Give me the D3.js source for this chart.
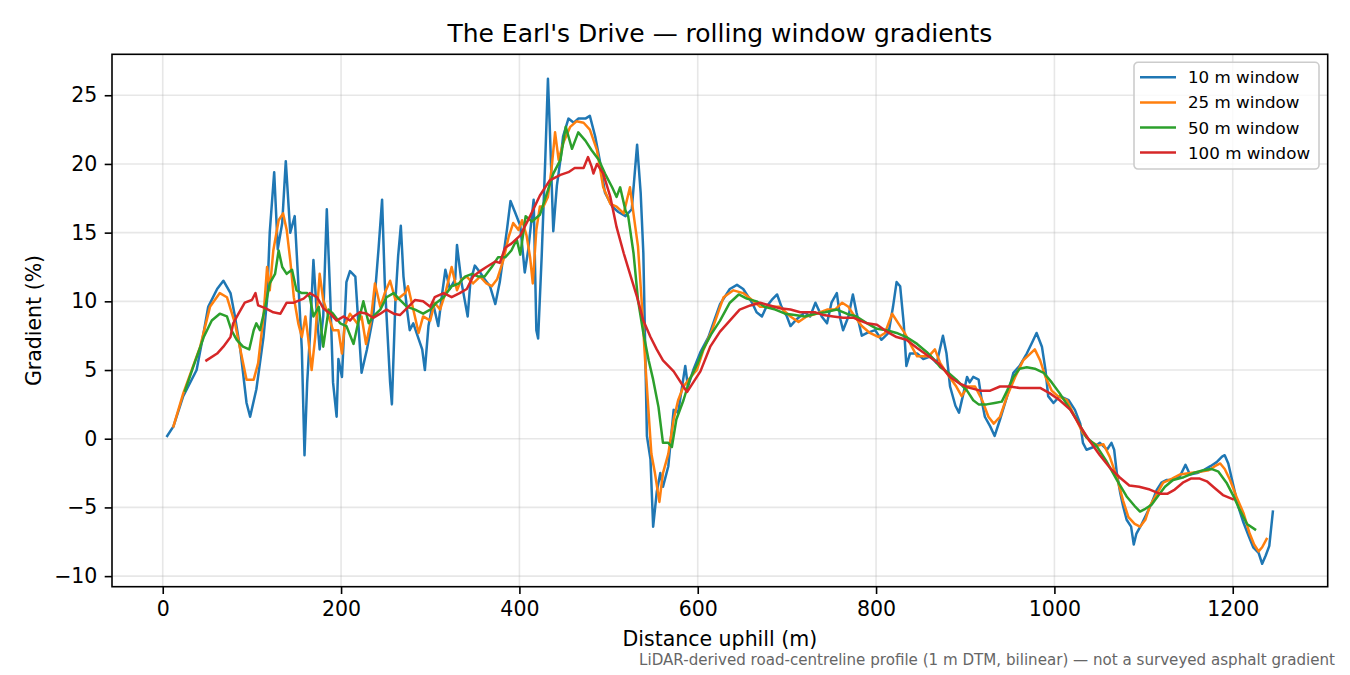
<!DOCTYPE html>
<html>
<head>
<meta charset="utf-8">
<script src="https://cdn.jsdelivr.net/npm/d3@7"></script>
<style>
  body { margin: 0; background: #fff; }
  svg { font-family: "DejaVu Sans", sans-serif; }
</style>
</head>
<body>
<div id="chart"></div>
<script>
// rolling window gradients, [distance uphill (m), gradient (%)]
var win10 = [[5,0.2],[12,0.9],[23,3.1],[38,5.0],[45,7.4],[51,9.6],[61,10.9],[68,11.5],[76,10.6],[81,8.9],[87,6.5],[94,2.6],[98,1.6],[105,3.6],[113,7.4],[117,10.1],[120,15.0],[125,19.4],[129,13.8],[134,15.7],[138,20.2],[143,15.0],[148,16.2],[152,11.4],[156,6.5],[159,-1.2],[162,4.1],[165,7.4],[169,13.0],[173,8.9],[176,6.5],[180,8.9],[184,16.7],[188,10.1],[191,4.1],[195,1.6],[197,5.8],[201,4.5],[206,11.4],[210,12.2],[216,11.8],[223,4.8],[229,6.5],[236,8.9],[242,13.8],[246,17.4],[249,11.4],[255,4.1],[257,2.5],[261,10.1],[264,13.3],[267,15.5],[270,11.8],[274,9.4],[277,7.9],[281,8.4],[291,6.5],[294,5.0],[298,8.2],[303,9.9],[309,8.2],[313,10.4],[317,12.3],[322,10.9],[328,11.6],[330,14.1],[335,11.4],[342,8.9],[345,11.4],[350,12.6],[356,12.1],[361,11.6],[367,11.1],[373,9.8],[378,11.4],[382,13.3],[386,15.2],[390,17.3],[395,16.5],[401,15.5],[406,12.1],[410,13.8],[416,17.4],[419,7.9],[421,7.3],[425,13.3],[429,20.3],[432,26.2],[434,22.8],[438,15.1],[442,18.4],[446,20.3],[449,22.0],[455,23.3],[461,23.0],[466,23.3],[474,23.3],[479,23.5],[485,22.0],[490,20.3],[496,17.9],[504,16.9],[511,16.5],[519,16.2],[526,16.7],[532,21.4],[536,17.9],[539,13.5],[543,0.2],[547,-1.5],[550,-6.4],[554,-3.9],[558,-2.5],[561,-3.5],[567,-2.0],[573,2.1],[578,1.9],[586,5.3],[589,3.8],[595,5.0],[603,6.3],[612,7.4],[619,8.7],[625,9.8],[636,10.9],[644,11.2],[651,10.9],[661,9.9],[666,9.2],[672,8.9],[677,9.6],[683,10.1],[689,10.5],[694,9.6],[700,8.9],[704,8.2],[711,8.7],[720,9.2],[726,8.9],[732,9.9],[739,8.9],[745,8.4],[750,9.9],[756,10.6],[760,8.7],[763,7.9],[769,8.9],[774,10.5],[778,9.2],[784,7.5],[790,7.7],[799,7.9],[806,7.2],[814,7.7],[819,9.6],[823,11.4],[827,11.1],[831,8.4],[834,5.3],[838,6.2],[846,6.2],[853,5.8],[861,6.0],[868,5.5],[875,7.5],[879,6.2],[883,3.8],[889,2.4],[893,1.9],[898,3.3],[902,4.5],[905,4.1],[909,4.5],[915,4.3],[919,2.6],[922,1.6],[928,0.9],[933,0.2],[939,1.4],[947,3.1],[954,4.8],[961,5.3],[969,6.2],[975,7.0],[980,7.7],[986,6.7],[990,5.0],[993,3.1],[999,2.6],[1006,3.1],[1016,2.8],[1023,2.1],[1029,1.1],[1032,-0.3],[1036,-0.8],[1044,-0.6],[1051,-0.3],[1059,-0.8],[1064,-0.3],[1067,-0.8],[1070,-2.5],[1074,-4.0],[1077,-4.9],[1081,-5.9],[1086,-6.4],[1089,-7.7],[1092,-6.9],[1098,-6.2],[1104,-5.4],[1109,-4.7],[1115,-3.7],[1120,-3.2],[1126,-3.0],[1133,-3.0],[1141,-2.7],[1147,-1.9],[1152,-2.6],[1160,-2.5],[1167,-2.3],[1175,-2.0],[1182,-1.7],[1188,-1.3],[1191,-1.2],[1195,-1.8],[1201,-3.5],[1206,-4.9],[1212,-6.1],[1218,-7.1],[1223,-7.9],[1229,-8.3],[1233,-9.1],[1237,-8.5],[1241,-7.8],[1245,-5.3]];

var win25 = [[12,0.9],[23,3.3],[42,6.7],[53,9.6],[64,10.6],[72,10.3],[81,8.4],[87,6.5],[94,4.3],[102,4.3],[107,5.5],[113,8.9],[117,12.5],[120,10.8],[124,13.7],[130,15.9],[135,16.4],[139,15.2],[143,13.0],[147,10.3],[152,8.4],[156,7.4],[160,8.9],[163,7.4],[167,5.0],[171,7.4],[176,12.0],[180,10.1],[186,8.9],[191,7.9],[197,7.9],[201,6.2],[204,8.2],[210,9.1],[218,8.4],[223,8.9],[228,6.9],[233,8.4],[238,11.3],[244,9.6],[249,10.6],[255,11.5],[261,10.1],[266,10.3],[272,10.6],[275,11.1],[281,9.4],[287,7.7],[292,8.9],[300,8.6],[305,9.9],[311,9.4],[317,10.6],[324,12.5],[330,10.8],[335,11.6],[341,11.8],[348,11.3],[356,11.8],[363,11.3],[369,11.1],[375,11.6],[382,13.0],[388,14.7],[393,15.7],[399,15.2],[403,15.9],[408,14.8],[412,13.2],[415,11.3],[419,15.2],[423,16.9],[427,16.9],[432,17.6],[436,19.6],[440,22.3],[444,20.3],[449,21.5],[457,22.7],[464,23.1],[472,23.0],[479,22.5],[487,21.0],[494,18.3],[502,17.1],[509,16.9],[517,16.4],[524,18.3],[530,15.4],[533,14.0],[537,10.1],[541,5.7],[545,1.8],[548,-1.1],[552,-2.5],[557,-4.6],[561,-2.5],[567,-1.1],[573,1.4],[578,2.8],[584,3.8],[591,4.4],[599,5.0],[606,6.4],[616,7.9],[624,9.4],[629,10.3],[640,10.8],[651,10.6],[661,10.1],[670,9.6],[681,9.6],[692,9.6],[704,8.9],[713,8.5],[722,8.9],[733,9.1],[745,9.4],[754,9.4],[762,9.9],[769,9.6],[776,8.9],[784,8.2],[793,7.7],[803,7.4],[810,7.7],[818,9.1],[825,8.4],[832,7.7],[840,6.7],[846,6.0],[853,6.0],[859,6.0],[866,6.5],[872,5.5],[879,4.8],[890,3.8],[896,3.1],[903,3.8],[911,3.8],[919,2.8],[926,1.6],[932,1.1],[939,1.6],[947,3.1],[956,4.5],[965,5.7],[973,6.2],[978,6.5],[984,5.7],[990,4.5],[997,3.5],[1004,3.1],[1014,2.8],[1023,1.6],[1032,0.4],[1040,-0.2],[1049,-0.5],[1055,-0.4],[1062,-1.3],[1070,-2.8],[1077,-4.5],[1083,-5.7],[1090,-6.2],[1096,-6.4],[1102,-5.9],[1107,-4.9],[1115,-4.0],[1122,-3.2],[1132,-2.9],[1141,-2.6],[1152,-2.5],[1163,-2.4],[1173,-2.3],[1180,-2.0],[1186,-1.8],[1191,-2.2],[1197,-3.0],[1204,-4.2],[1212,-5.4],[1219,-6.9],[1224,-7.7],[1229,-8.2],[1233,-7.9],[1238,-7.3]];

var win50 = [[25,3.5],[34,5.2],[46,7.4],[55,8.6],[64,9.1],[72,8.9],[77,7.9],[83,7.2],[90,6.7],[97,6.5],[102,7.9],[105,8.4],[109,7.9],[115,9.6],[120,11.3],[126,12.0],[130,13.7],[134,12.5],[139,12.0],[145,12.3],[150,10.8],[156,10.6],[162,10.6],[165,10.3],[169,8.9],[175,9.6],[180,6.7],[186,9.4],[191,9.1],[199,8.4],[206,8.2],[214,6.9],[219,8.4],[225,10.0],[231,8.4],[236,8.9],[244,9.4],[251,10.3],[259,10.6],[266,10.1],[274,9.6],[283,9.4],[292,9.1],[300,9.4],[307,9.9],[315,10.3],[324,11.1],[332,11.3],[339,11.8],[347,12.0],[354,11.8],[361,11.8],[369,12.5],[376,13.2],[384,13.2],[391,13.7],[397,14.5],[401,13.4],[407,16.2],[414,15.8],[423,16.3],[431,17.9],[438,19.3],[446,20.3],[452,22.7],[459,21.1],[466,22.3],[474,21.7],[481,21.0],[489,20.3],[496,19.3],[504,18.3],[509,17.6],[513,18.3],[519,16.6],[522,16.2],[528,13.5],[533,10.1],[539,7.7],[545,5.7],[550,4.3],[556,2.3],[561,-0.3],[567,-0.3],[571,-0.6],[576,1.4],[584,2.8],[591,4.3],[600,5.5],[606,6.5],[615,7.6],[625,8.6],[636,9.9],[646,10.5],[655,10.2],[666,10.0],[675,9.6],[687,9.4],[698,9.1],[709,9.0],[720,8.9],[732,9.1],[743,9.2],[756,9.4],[767,9.1],[778,8.9],[790,8.4],[801,8.0],[812,7.9],[823,7.7],[834,7.4],[846,6.9],[857,6.3],[866,5.7],[872,5.2],[881,4.8],[890,4.3],[902,3.5],[909,2.8],[915,2.5],[924,2.5],[933,2.6],[941,2.7],[947,3.5],[954,4.5],[961,5.1],[969,5.2],[978,5.1],[988,4.8],[997,4.1],[1006,3.3],[1016,2.3],[1025,1.4],[1036,0.1],[1047,-0.5],[1058,-1.6],[1070,-3.0],[1081,-4.2],[1090,-4.9],[1096,-5.3],[1102,-5.1],[1109,-4.8],[1117,-4.1],[1124,-3.5],[1133,-3.0],[1145,-2.8],[1156,-2.5],[1167,-2.3],[1176,-2.2],[1184,-2.4],[1193,-3.2],[1201,-4.2],[1208,-5.2],[1216,-6.2],[1225,-6.6]];

var win100 = [[49,5.7],[61,6.2],[68,6.7],[76,7.4],[79,8.4],[85,9.1],[92,9.9],[100,10.1],[104,10.6],[107,9.7],[115,9.5],[124,9.2],[132,9.1],[139,9.9],[147,9.9],[158,10.2],[165,10.6],[173,10.3],[180,9.5],[188,9.1],[195,8.6],[203,8.9],[210,8.6],[214,8.9],[221,9.2],[229,9.1],[236,8.8],[244,9.1],[251,9.4],[259,9.1],[266,9.0],[274,9.5],[283,10.1],[292,10.0],[300,9.6],[305,10.3],[315,10.6],[324,10.3],[333,10.6],[341,10.9],[348,11.8],[356,12.2],[363,12.5],[373,12.9],[378,12.8],[384,13.9],[391,14.2],[401,14.8],[412,16.2],[423,17.7],[434,18.8],[446,19.2],[455,19.4],[462,19.7],[472,19.7],[477,20.5],[481,19.8],[483,19.3],[487,20.0],[494,19.3],[502,17.6],[509,15.4],[517,13.5],[524,12.0],[532,10.3],[539,8.6],[547,7.4],[554,6.5],[561,5.7],[573,4.9],[584,3.8],[588,3.4],[593,3.9],[603,4.9],[614,6.7],[625,7.8],[636,8.6],[647,9.4],[659,9.7],[670,9.9],[681,9.7],[692,9.5],[704,9.4],[715,9.2],[726,9.2],[732,9.2],[741,9.0],[752,8.9],[763,8.8],[775,8.8],[782,8.6],[790,8.4],[801,8.3],[812,7.8],[823,7.4],[834,7.2],[846,6.6],[857,6.1],[870,5.5],[883,4.5],[894,4.0],[905,3.7],[917,3.5],[928,3.5],[939,3.8],[950,3.8],[961,3.7],[973,3.7],[984,3.7],[995,3.3],[1006,2.8],[1018,2.1],[1029,0.9],[1040,-0.2],[1051,-1.2],[1062,-2.1],[1073,-2.8],[1084,-3.4],[1095,-3.5],[1107,-3.7],[1118,-4.0],[1127,-4.0],[1135,-3.7],[1144,-3.2],[1153,-2.9],[1163,-2.9],[1171,-3.1],[1180,-3.6],[1189,-4.1],[1200,-4.4]];

var seriesNames = ["10 m window", "25 m window", "50 m window", "100 m window"];
var xTicks = [0, 200, 400, 600, 800, 1000, 1200];
var yTicks = [-10, -5, 0, 5, 10, 15, 20, 25];

var allSeries = [win10, win25, win50, win100];
var colors = ["#1f77b4", "#ff7f0e", "#2ca02c", "#d62728"];

var W = 1350, H = 675;
var margin = {top: 54.3, right: 22.3, bottom: 88.3, left: 112};
var width = W - margin.left - margin.right,
    height = H - margin.top - margin.bottom;

var svg = d3.select("#chart").append("svg")
    .attr("width", W)
    .attr("height", H);

svg.append("rect").attr("width", W).attr("height", H).attr("fill", "#fff");

var g = svg.append("g")
    .attr("transform", "translate(" + margin.left + "," + margin.top + ")");

// domain padded like matplotlib's 5% margins
var x = d3.scaleLinear().domain([-56.9, 1306.5]).range([0, width]);
var y = d3.scaleLinear().domain([-10.77, 27.98]).range([height, 0]);

var fmt = function(v) { return v < 0 ? "\u2212" + Math.abs(v) : String(v); };

// grid
g.append("g").selectAll("line")
    .data(xTicks).enter().append("line")
    .attr("x1", function(d) { return x(d); })
    .attr("x2", function(d) { return x(d); })
    .attr("y1", 0).attr("y2", height)
    .attr("stroke", "#b0b0b0").attr("stroke-opacity", 0.3).attr("stroke-width", 1.6);
g.append("g").selectAll("line")
    .data(yTicks).enter().append("line")
    .attr("y1", function(d) { return y(d); })
    .attr("y2", function(d) { return y(d); })
    .attr("x1", 0).attr("x2", width)
    .attr("stroke", "#b0b0b0").attr("stroke-opacity", 0.3).attr("stroke-width", 1.6);

// axes
var xAxis = g.append("g")
    .attr("transform", "translate(0," + height + ")")
    .call(d3.axisBottom(x).tickValues(xTicks).tickFormat(fmt).tickSize(7.3).tickPadding(7.3));
var yAxis = g.append("g")
    .call(d3.axisLeft(y).tickValues(yTicks).tickFormat(fmt).tickSize(7.3).tickPadding(7.3));

[xAxis, yAxis].forEach(function(a) {
    a.select(".domain").remove();
    a.selectAll(".tick line").attr("stroke", "#000").attr("stroke-width", 1.6);
    a.selectAll(".tick text")
        .attr("fill", "#000")
        .style("font-family", "DejaVu Sans")
        .style("font-size", "20.5px");
});
xAxis.selectAll(".tick text").attr("dy", "0.71em");

// lines
var clip = svg.append("clipPath").attr("id", "clip")
    .append("rect").attr("width", width).attr("height", height);

var line = d3.line()
    .x(function(d) { return x(d[0]); })
    .y(function(d) { return y(d[1]); });

g.append("g").attr("clip-path", "url(#clip)")
    .selectAll("path")
    .data(allSeries).enter().append("path")
    .attr("d", line)
    .attr("fill", "none")
    .attr("stroke", function(d, i) { return colors[i]; })
    .attr("stroke-width", 2.5)
    .attr("stroke-linejoin", "round")
    .attr("stroke-linecap", "square");

// frame
g.append("rect")
    .attr("width", width).attr("height", height)
    .attr("fill", "none").attr("stroke", "#000").attr("stroke-width", 1.6);

// titles
svg.append("text")
    .attr("x", margin.left + width / 2).attr("y", 41.8)
    .attr("text-anchor", "middle")
    .style("font-size", "25px")
    .text("The Earl's Drive \u2014 rolling window gradients");

svg.append("text")
    .attr("x", margin.left + width / 2).attr("y", 646)
    .attr("text-anchor", "middle")
    .style("font-size", "20.5px")
    .text("Distance uphill (m)");

svg.append("text")
    .attr("transform", "translate(41," + (margin.top + height / 2) + ") rotate(-90)")
    .attr("text-anchor", "middle")
    .style("font-size", "20.5px")
    .text("Gradient (%)");

svg.append("text")
    .attr("x", 1335).attr("y", 665)
    .attr("text-anchor", "end")
    .attr("fill", "#666")
    .style("font-size", "15.1px")
    .text("LiDAR-derived road-centreline profile (1 m DTM, bilinear) \u2014 not a surveyed asphalt gradient");

// legend
var legend = svg.append("g").attr("transform", "translate(1134,62.3)");
legend.append("rect")
    .attr("width", 185).attr("height", 106.7)
    .attr("rx", 4).attr("ry", 4)
    .attr("fill", "#fff").attr("fill-opacity", 0.8)
    .attr("stroke", "#ccc").attr("stroke-width", 1.6);

var item = legend.selectAll(".item")
    .data(seriesNames).enter().append("g")
    .attr("transform", function(d, i) { return "translate(0," + (15 + i * 25.1) + ")"; });
item.append("line")
    .attr("x1", 6).attr("x2", 42)
    .attr("stroke", function(d, i) { return colors[i]; })
    .attr("stroke-width", 2.5);
item.append("text")
    .attr("x", 54).attr("y", 6)
    .style("font-size", "16.7px")
    .text(function(d) { return d; });
</script>
</body>
</html>
